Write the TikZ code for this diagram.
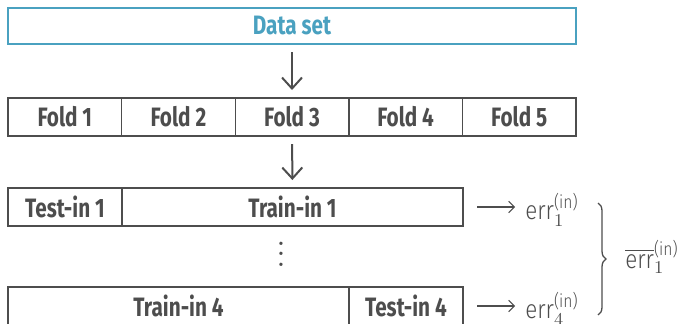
\documentclass[tikz,border=0pt]{standalone}
\usepackage{fontspec}
\usepackage{amsmath}
\setmainfont{Fira Sans}[FakeStretch=0.78]
\newfontfamily\lightf{Fira Sans Light}[FakeStretch=0.86]
\usetikzlibrary{arrows.meta,decorations.pathreplacing}
\definecolor{ink}{HTML}{4D4D4D}
\definecolor{dataBlue}{HTML}{4AA1C0}
\newcommand{\errsym}{\text{\lightf err}}
\newcommand{\insup}{\text{\lightf (in)}}
% three vertically stacked dots with wider spacing than \vdots
\newcommand{\tallvdots}{\vbox{\baselineskip5.3pt\lineskiplimit-10pt
  \hbox{$.$}\hbox{$.$}\hbox{$.$}}}
\tikzset{
  cell/.style={draw=ink, line width=0.7pt, text=ink,
    font=\fontsize{13.3}{15}\selectfont\bfseries,
    minimum height=19pt, inner sep=0pt, outer sep=0pt},
  datacell/.style={cell, draw=dataBlue, text=dataBlue, line width=0.85pt, minimum height=18pt},
  flow/.style={draw=ink, line width=1pt, -{Straight Barb[length=5.5pt,width=10pt]},
    shorten <=4pt, shorten >=4pt},
  thinflow/.style={draw=ink, line width=0.55pt, -{Straight Barb[length=2.8pt,width=5.8pt]},
    shorten <=7pt, shorten >=5pt},
  errlabel/.style={anchor=base west, inner sep=0pt, text=ink,
    font=\fontsize{13}{15}\selectfont}
}
\begin{document}
\begin{tikzpicture}[x=0.5pt,y=-0.5pt]
\useasboundingbox (0,0) rectangle (688,323);

% full data set
\node[datacell, minimum width=284pt] (data) at (292,26) {Data set};

% outer folds
\node[cell, minimum width=56.8pt] (f1) at (64.8,117) {Fold 1};
\node[cell, minimum width=56.8pt] (f2) at (178.4,117) {Fold 2};
\node[cell, minimum width=56.8pt] (f3) at (292,117) {Fold 3};
\node[cell, minimum width=56.8pt] (f4) at (405.6,117) {Fold 4};
\node[cell, minimum width=56.8pt] (f5) at (519.2,117) {Fold 5};

% inner split 1
\node[cell, minimum width=57pt] (test1) at (65,207) {Test-in 1};
\node[cell, minimum width=170.5pt] (train1) at (292.5,207) {Train-in 1};

% inner split 4
\node[cell, minimum width=170.5pt] (train4) at (178.5,306) {Train-in 4};
\node[cell, minimum width=57pt] (test4) at (406,306) {Test-in 4};

\node[text=ink, inner sep=0pt, font=\fontsize{16}{16}\selectfont] (vd) at (281,254) {\tallvdots};

\draw[flow] (data) -- (f3);
\draw[flow] (f3) -- (train1);

% inner errors
\node[errlabel] (e1) at (525,219) {$\errsym_1^{\insup}$};
\node[errlabel] (e4) at (525,318) {$\errsym_4^{\insup}$};
\draw[thinflow] (train1.east) -- (train1.east -| e1.west);
\draw[thinflow] (test4.east) -- (test4.east -| e4.west);

% average of inner errors
\coordinate (bt) at (598,203);
\coordinate (bb) at (598,315);
\draw[ink, line width=0.65pt, decorate, decoration={brace, amplitude=4pt}] (bt) -- (bb);
\node[errlabel] (em) at (625,268) {$\overline{\errsym}_1^{\insup}$};
\end{tikzpicture}
\end{document}
